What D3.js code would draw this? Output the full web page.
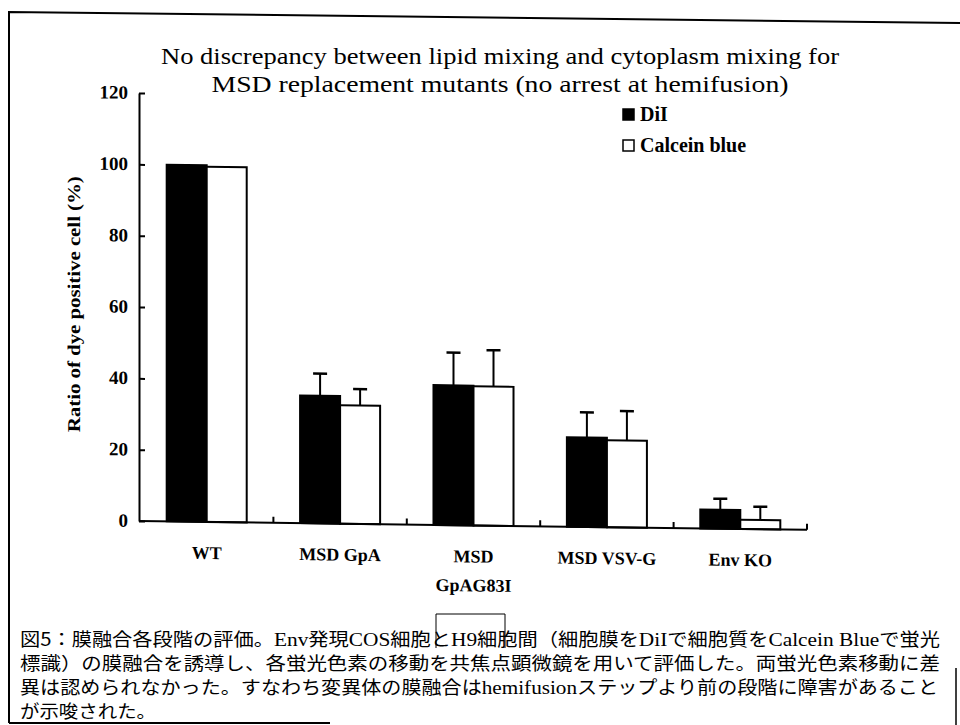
<!DOCTYPE html>
<html>
  <head>
    <meta charset="utf-8" />
    <script src="https://d3js.org/d3.v7.min.js"></script>
    <style>
      body {
        margin: 0;
        background: #fff;
      }
      .serif {
        font-family: "Liberation Serif", "Times New Roman", Times, serif;
      }
      .jp {
        font-family: "Noto Sans CJK JP", sans-serif;
      }
    </style>
  </head>
  <body>
    <svg id="chart" width="960" height="725"></svg>
    <script>
      // data
      var categories = ["WT", "MSD GpA", "MSD GpAG83I", "MSD VSV-G", "Env KO"];
      var categoryLines = [["WT"], ["MSD GpA"], ["MSD", "GpAG83I"], ["MSD VSV-G"], ["Env KO"]];
      var seriesNames = ["DiI", "Calcein blue"];
      var diiValues = [100, 35.8, 39.2, 25.1, 5.3];
      var diiErrors = [0, 6.2, 9.2, 7.0, 3.1];
      var calceinValues = [99.6, 33.2, 39.0, 24.4, 2.6];
      var calceinErrors = [0, 4.6, 10.2, 8.2, 3.7];
      var yTicks = [0, 20, 40, 60, 80, 100, 120];

      var titleLines = [
        "No discrepancy between lipid mixing and cytoplasm mixing for",
        "MSD replacement mutants (no arrest at hemifusion)"
      ];
      var yTitle = "Ratio of dye positive cell (%)";

      // caption, latin parts flagged so they get a serif face
      var captionLines = [
        [["図5：膜融合各段階の評価。", 0], ["Env", 1], ["発現", 0], ["COS", 1], ["細胞と", 0], ["H9", 1], ["細胞間（細胞膜を", 0], ["DiI", 1], ["で細胞質を", 0], ["Calcein Blue", 1], ["で蛍光", 0]],
        [["標識）の膜融合を誘導し、各蛍光色素の移動を共焦点顕微鏡を用いて評価した。両蛍光色素移動に差", 0]],
        [["異は認められなかった。すなわち変異体の膜融合は", 0], ["hemifusion", 1], ["ステップより前の段階に障害があること", 0]],
        [["が示唆された。", 0]]
      ];
      var captionWidths = [920, 920, 918, 136];

      var data = categories.map(function (c, i) {
        return {
          cat: c,
          lines: categoryLines[i],
          vals: [
            { key: seriesNames[0], v: diiValues[i], e: diiErrors[i] },
            { key: seriesNames[1], v: calceinValues[i], e: calceinErrors[i] }
          ]
        };
      });

      var svg = d3.select("#chart");

      // scanned page frame
      svg.append("path")
        .attr("d", "M9,723 L9,12 L960,23")
        .attr("fill", "none")
        .attr("stroke", "#000")
        .attr("stroke-width", 2);
      svg.append("path")
        .attr("d", "M9,723 L330,723")
        .attr("stroke", "#000")
        .attr("stroke-width", 2);
      svg.append("path")
        .attr("d", "M956,668 L956,725")
        .attr("stroke", "#000")
        .attr("stroke-width", 1.5);

      // title
      svg.selectAll(".title")
        .data(titleLines)
        .enter()
        .append("text")
        .attr("class", "title serif")
        .attr("x", 500)
        .attr("y", (d, i) => 64 + i * 28)
        .attr("text-anchor", "middle")
        .attr("font-size", 24)
        .attr("textLength", (d, i) => (i == 0 ? 678 : 577))
        .attr("lengthAdjust", "spacingAndGlyphs")
        .text((d) => d);

      var axisX = 139;
      var chartRight = 807;

      // the scan is slightly sheared, the plot slopes down to the right
      var plot = svg.append("g")
        .attr("transform", "translate(" + axisX + ",0) skewY(0.76) translate(" + -axisX + ",0)");

      var x = d3.scaleBand()
        .domain(categories)
        .range([axisX + 1, chartRight])
        .padding(0);

      var x1 = d3.scaleBand()
        .domain(seriesNames)
        .range([0, x.bandwidth()])
        .paddingInner(0)
        .paddingOuter(0.667);

      var y = d3.scaleLinear().domain([0, 120]).range([521, 93]);

      // bars
      var groups = plot.selectAll(".grp")
        .data(data)
        .enter()
        .append("g")
        .attr("class", "grp")
        .attr("transform", (d) => "translate(" + x(d.cat) + ",0)");

      groups.selectAll("rect")
        .data((d) => d.vals)
        .enter()
        .append("rect")
        .attr("x", (d) => x1(d.key))
        .attr("y", (d) => y(d.v))
        .attr("width", x1.bandwidth())
        .attr("height", (d) => y(0) - y(d.v))
        .attr("fill", (d, i) => (i == 0 ? "#000" : "#fff"))
        .attr("stroke", "#000")
        .attr("stroke-width", 2);

      // error bars, upper half only
      var err = groups.selectAll(".err")
        .data((d) => d.vals.filter((v) => v.e > 0))
        .enter()
        .append("g")
        .attr("class", "err");
      err.append("line")
        .attr("x1", (d) => x1(d.key) + x1.bandwidth() / 2)
        .attr("x2", (d) => x1(d.key) + x1.bandwidth() / 2)
        .attr("y1", (d) => y(d.v))
        .attr("y2", (d) => y(d.v + d.e))
        .attr("stroke", "#000")
        .attr("stroke-width", 2);
      err.append("line")
        .attr("x1", (d) => x1(d.key) + x1.bandwidth() / 2 - 7)
        .attr("x2", (d) => x1(d.key) + x1.bandwidth() / 2 + 7)
        .attr("y1", (d) => y(d.v + d.e))
        .attr("y2", (d) => y(d.v + d.e))
        .attr("stroke", "#000")
        .attr("stroke-width", 2.5);

      // y axis, ticks pointing inward
      var yAxis = plot.append("g")
        .attr("transform", "translate(" + axisX + ",0)")
        .call(d3.axisRight(y).tickValues(yTicks).tickSize(6).tickSizeOuter(0).tickFormat(""));
      yAxis.select(".domain").attr("stroke-width", 2);
      yAxis.selectAll(".tick line").attr("stroke-width", 2);

      plot.selectAll(".ylab")
        .data(yTicks)
        .enter()
        .append("text")
        .attr("class", "ylab serif")
        .attr("x", axisX - 11)
        .attr("y", (d) => y(d) + 6)
        .attr("text-anchor", "end")
        .attr("font-weight", "bold")
        .attr("font-size", 19)
        .text((d) => d);

      // x axis with ticks between groups pointing up
      var xTicks = categories.slice(1).map((c) => x(c)).concat([chartRight]);
      var xAxis = plot.append("g");
      xAxis.append("line")
        .attr("x1", axisX)
        .attr("x2", chartRight)
        .attr("y1", y(0))
        .attr("y2", y(0))
        .attr("stroke", "#000")
        .attr("stroke-width", 2);
      xAxis.selectAll(".xt")
        .data(xTicks)
        .enter()
        .append("line")
        .attr("x1", (d) => d)
        .attr("x2", (d) => d)
        .attr("y1", y(0))
        .attr("y2", y(0) - 6)
        .attr("stroke", "#000")
        .attr("stroke-width", 2);

      plot.selectAll(".xlab")
        .data(data)
        .enter()
        .append("text")
        .attr("class", "xlab serif")
        .attr("x", (d) => x(d.cat) + x.bandwidth() / 2)
        .attr("y", 558)
        .attr("text-anchor", "middle")
        .attr("font-weight", "bold")
        .attr("font-size", 18)
        .selectAll("tspan")
        .data((d) => d.lines)
        .enter()
        .append("tspan")
        .attr("x", function () {
          return this.parentNode.getAttribute("x");
        })
        .attr("dy", (d, i) => (i == 0 ? 0 : 29))
        .text((d) => d);

      // y axis title
      plot.append("text")
        .attr("class", "serif")
        .attr("transform", "translate(80,305) rotate(-90)")
        .attr("text-anchor", "middle")
        .attr("font-weight", "bold")
        .attr("font-size", 18)
        .attr("textLength", 256)
        .attr("lengthAdjust", "spacingAndGlyphs")
        .text(yTitle);

      // legend
      var legend = svg.append("g").attr("transform", "translate(622,108)");
      var li = legend.selectAll(".li")
        .data(seriesNames)
        .enter()
        .append("g")
        .attr("class", "li")
        .attr("transform", (d, i) => "translate(0," + i * 31 + ")");
      li.append("rect")
        .attr("x", 1)
        .attr("y", 1)
        .attr("width", 11)
        .attr("height", 11)
        .attr("fill", (d, i) => (i == 0 ? "#000" : "#fff"))
        .attr("stroke", "#000")
        .attr("stroke-width", 1.5);
      li.append("text")
        .attr("class", "serif")
        .attr("x", 18)
        .attr("y", 13)
        .attr("font-weight", "bold")
        .attr("font-size", 20)
        .text((d) => d);

      // caption
      var cap = svg.selectAll(".cap")
        .data(captionLines)
        .enter()
        .append("text")
        .attr("class", "cap jp")
        .attr("x", 20)
        .attr("y", (d, i) => 646 + i * 24)
        .attr("font-size", 18)
        .attr("textLength", (d, i) => captionWidths[i])
        .attr("lengthAdjust", "spacingAndGlyphs");
      cap.selectAll("tspan")
        .data((d) => d)
        .enter()
        .append("tspan")
        .attr("class", (d) => (d[1] ? "serif" : "jp"))
        .attr("font-size", (d) => (d[1] ? 19 : 18))
        .text((d) => d[0]);

      // small box drawn over "H9細" in the scan
      svg.append("path")
        .attr("d", "M436,648 L436,614 L505,614 L505,648")
        .attr("fill", "none")
        .attr("stroke", "#000")
        .attr("stroke-width", 1);
    </script>
  </body>
</html>
